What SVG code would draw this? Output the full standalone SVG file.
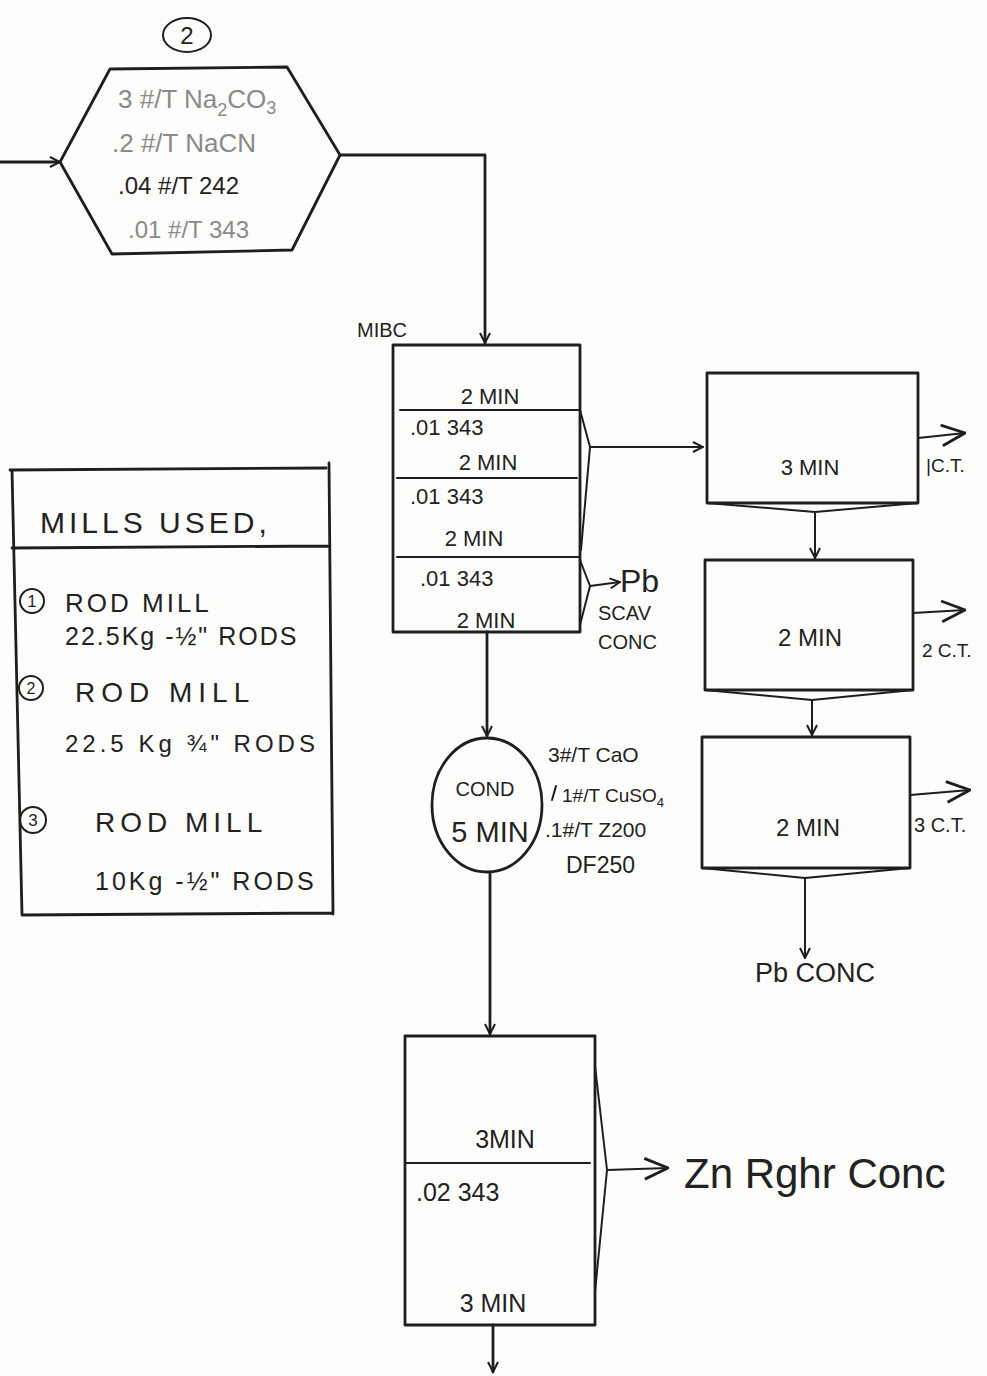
<svg xmlns="http://www.w3.org/2000/svg" width="987" height="1376" viewBox="0 0 987 1376">
<style>
.ln{fill:none;stroke:#1e1e1e;stroke-width:2.8;stroke-linecap:round;stroke-linejoin:round}
.thin{fill:none;stroke:#1e1e1e;stroke-width:2;stroke-linecap:round;stroke-linejoin:round}
.t{font-family:"Liberation Sans","DejaVu Sans",sans-serif;fill:#222}
.faint{fill:#8a8a8a}
.c{text-anchor:middle}
</style>
<defs>
<marker id="ah" viewBox="0 0 12 12" refX="11" refY="6" markerWidth="12" markerHeight="12" markerUnits="userSpaceOnUse" orient="auto">
<path d="M1,1 L11,6 L1,11" fill="none" stroke="#1e1e1e" stroke-width="2"/>
</marker>
<marker id="ahb" viewBox="0 0 20 20" refX="19" refY="10" markerWidth="26" markerHeight="26" markerUnits="userSpaceOnUse" orient="auto">
<path d="M1,2 L19,10 L1,18" fill="none" stroke="#1e1e1e" stroke-width="2.2"/>
</marker>
</defs>
<rect width="987" height="1376" fill="#fdfdfb"/>

<g id="connectors">
<line class="ln" x1="0" y1="162" x2="60" y2="162" marker-end="url(#ah)"/>
<polyline class="ln" points="340,155 485,155 485,343" marker-end="url(#ah)"/>
<line class="thin" x1="590" y1="447" x2="703" y2="447" marker-end="url(#ah)"/>
<line class="thin" x1="590" y1="586" x2="620" y2="582" marker-end="url(#ah)"/>
<line class="thin" x1="815" y1="512" x2="815" y2="558" marker-end="url(#ah)"/>
<line class="thin" x1="812" y1="700" x2="812" y2="735" marker-end="url(#ah)"/>
<line class="thin" x1="805" y1="878" x2="805" y2="958" marker-end="url(#ah)"/>
<line class="thin" x1="918" y1="438" x2="965" y2="433" marker-end="url(#ahb)"/>
<line class="thin" x1="913" y1="613" x2="965" y2="610" marker-end="url(#ahb)"/>
<line class="thin" x1="910" y1="795" x2="970" y2="790" marker-end="url(#ahb)"/>
<line class="ln" x1="487" y1="632" x2="487" y2="736" marker-end="url(#ah)"/>
<line class="ln" x1="490" y1="873" x2="490" y2="1034" marker-end="url(#ah)"/>
<line class="thin" x1="607" y1="1170" x2="668" y2="1168" marker-end="url(#ahb)"/>
<line class="ln" x1="493" y1="1325" x2="493" y2="1372" marker-end="url(#ah)"/>
</g>

<g id="label-2">
<ellipse class="thin" cx="187" cy="35" rx="24" ry="17"/>
<text class="t c" x="187" y="44" font-size="24">2</text>
</g>

<g id="reagent-hexagon">
<polygon class="ln" points="60,162 110,69 287,67 340,155 292,250 112,254"/>
<text class="t faint" x="118" y="108" font-size="26">3 #/T Na<tspan font-size="18" dy="8">2</tspan><tspan dy="-8">CO</tspan><tspan font-size="18" dy="6">3</tspan></text>
<text class="t faint" x="112" y="152" font-size="26">.2 #/T NaCN</text>
<text class="t" x="118" y="194" font-size="24">.04 #/T 242</text>
<text class="t faint" x="128" y="238" font-size="24">.01 #/T 343</text>
</g>

<g id="mibc-rougher">
<text class="t" x="357" y="337" font-size="20">MIBC</text>
<rect class="ln" x="393" y="345" width="187" height="287"/>
<line class="thin" x1="400" y1="410" x2="580" y2="410"/>
<line class="thin" x1="397" y1="478" x2="577" y2="478"/>
<line class="thin" x1="397" y1="557" x2="580" y2="557"/>
<polyline class="thin" points="580,410 590,447 581,550"/>
<polyline class="thin" points="580,560 590,586 580,625"/>
<text class="t c" x="490" y="404" font-size="22">2 MIN</text>
<text class="t" x="410" y="435" font-size="22">.01 343</text>
<text class="t c" x="488" y="470" font-size="22">2 MIN</text>
<text class="t" x="410" y="504" font-size="22">.01 343</text>
<text class="t c" x="474" y="546" font-size="22">2 MIN</text>
<text class="t" x="420" y="586" font-size="22">.01 343</text>
<text class="t c" x="486" y="628" font-size="22">2 MIN</text>
</g>

<g id="pb-scav-conc">
<text class="t" x="620" y="592" font-size="32">Pb</text>
<text class="t" x="598" y="620" font-size="20">SCAV</text>
<text class="t" x="598" y="649" font-size="20">CONC</text>
</g>

<g id="cleaner-1">
<rect class="ln" x="707" y="373" width="211" height="130"/>
<polyline class="thin" points="707,503 815,512 918,503"/>
<text class="t c" x="810" y="475" font-size="22">3 MIN</text>
<text class="t" x="926" y="472" font-size="19">|C.T.</text>
</g>

<g id="cleaner-2">
<rect class="ln" x="705" y="560" width="208" height="130"/>
<polyline class="thin" points="705,690 812,700 913,690"/>
<text class="t c" x="810" y="646" font-size="24">2 MIN</text>
<text class="t" x="922" y="657" font-size="19">2 C.T.</text>
</g>

<g id="cleaner-3">
<rect class="ln" x="702" y="737" width="208" height="131"/>
<polyline class="thin" points="702,868 805,878 910,868"/>
<text class="t c" x="808" y="836" font-size="24">2 MIN</text>
<text class="t" x="914" y="832" font-size="20">3 C.T.</text>
</g>

<g id="pb-conc">
<text class="t" x="755" y="982" font-size="27">Pb CONC</text>
</g>

<g id="conditioner">
<ellipse class="ln" cx="487" cy="805" rx="55" ry="67"/>
<text class="t c" x="485" y="796" font-size="20">COND</text>
<text class="t c" x="490" y="842" font-size="29">5 MIN</text>
<line class="thin" x1="556" y1="786" x2="552" y2="800"/>
<text class="t" x="548" y="762" font-size="21">3#/T CaO</text>
<text class="t" x="562" y="802" font-size="19">1#/T CuSO<tspan font-size="13" dy="5">4</tspan></text>
<text class="t" x="545" y="837" font-size="21">.1#/T Z200</text>
<text class="t" x="566" y="873" font-size="23">DF250</text>
</g>

<g id="zn-rougher">
<rect class="ln" x="405" y="1036" width="190" height="289"/>
<line class="thin" x1="405" y1="1163" x2="590" y2="1163"/>
<polyline class="thin" points="595,1066 607,1170 595,1292"/>
<text class="t c" x="505" y="1148" font-size="25">3MIN</text>
<text class="t" x="416" y="1201" font-size="25">.02 343</text>
<text class="t c" x="493" y="1312" font-size="25">3 MIN</text>
</g>

<g id="zn-rghr-conc">
<text class="t" x="684" y="1188" font-size="42">Zn Rghr Conc</text>
</g>

<g id="mills-used">
<path class="ln" d="M10,470 L326,468 M329,463 L333,914 M22,915 L333,913 M12,470 L22,915 M12,548 L330,546"/>
<text class="t" x="40" y="533" font-size="30" letter-spacing="4">MILLS USED,</text>
<circle class="thin" cx="32" cy="601" r="12"/>
<text class="t c" x="32" y="607" font-size="16">1</text>
<text class="t" x="65" y="612" font-size="26" letter-spacing="3">ROD MILL</text>
<text class="t" x="65" y="645" font-size="25" letter-spacing="2">22.5Kg -½" RODS</text>
<circle class="thin" cx="31" cy="688" r="12"/>
<text class="t c" x="31" y="694" font-size="16">2</text>
<text class="t" x="75" y="702" font-size="28" letter-spacing="6">ROD MILL</text>
<text class="t" x="65" y="752" font-size="24" letter-spacing="4">22.5 Kg ¾" RODS</text>
<circle class="thin" cx="33" cy="820" r="13"/>
<text class="t c" x="33" y="826" font-size="17">3</text>
<text class="t" x="95" y="832" font-size="28" letter-spacing="5">ROD MILL</text>
<text class="t" x="95" y="890" font-size="25" letter-spacing="3">10Kg -½" RODS</text>
</g>
</svg>
